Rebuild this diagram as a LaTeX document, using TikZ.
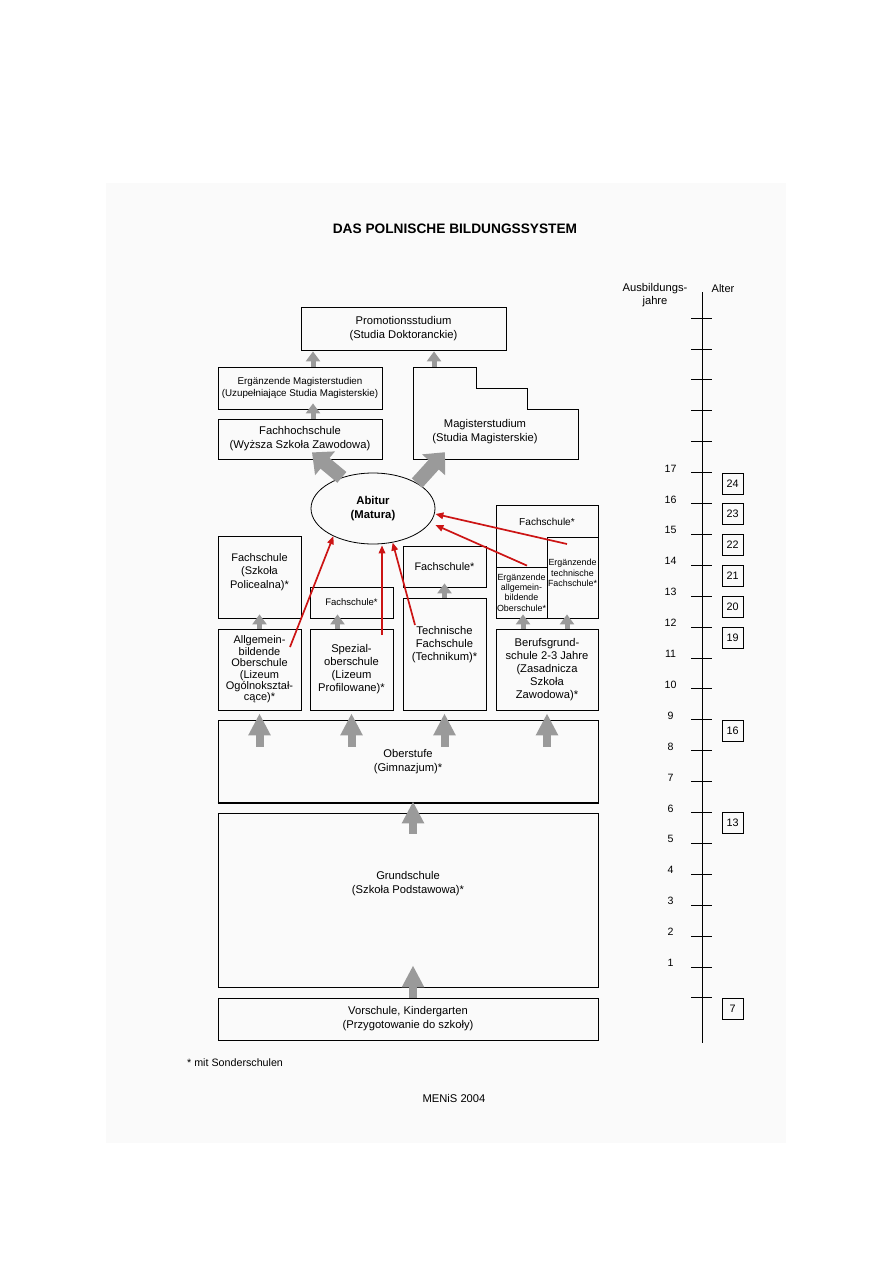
\documentclass[tikz,border=0pt]{standalone}
\usepackage{fontspec}
\setmainfont{Liberation Sans}
\usetikzlibrary{arrows.meta,calc,shapes.geometric}
\definecolor{arrgray}{HTML}{9A9A9A}
\definecolor{redline}{HTML}{CC1414}
\definecolor{pagebg}{HTML}{FAFAFA}
\newcommand\fsz[2]{\fontsize{#1}{#2}\selectfont}
\begin{document}
\begin{tikzpicture}[x=1pt, y=-1pt,
  bx/.style={draw, line width=0.8pt, inner sep=0pt, align=center, font=\fsz{11.2}{14}},
  lbl/.style={inner sep=0pt, align=center, font=\fsz{11.2}{14}},
  up/.style={draw=arrgray, line width=5pt, -{Triangle[width=14pt,length=10pt]}},
  upbig/.style={draw=arrgray, line width=8pt, -{Triangle[width=21pt,length=22pt]}},
  fat/.style={draw=arrgray, line width=14pt, -{Triangle[width=30pt,length=17pt]}},
  toabi/.style={draw=redline, line width=1.7pt, -{Triangle[width=6.5pt,length=8pt]}},
  agebox/.style={draw, line width=0.7pt, minimum size=21pt, inner sep=0pt, anchor=north, font=\fsz{10.8}{12}},
]
\useasboundingbox (0,0) rectangle (893,1263);
\fill[pagebg] (106,183) rectangle (786,1143);
\node[lbl, font=\bfseries\fsz{13.7}{16}] (title) at (455,229) {DAS POLNISCHE BILDUNGSSYSTEM};

\node[bx, minimum width=205pt, minimum height=43pt] (promo) at (403.5,328.5) {Promotionsstudium\\(Studia Doktoranckie)};
\node[bx, minimum width=164pt, minimum height=42pt, font=\fsz{9.8}{12.5}] (ergmag) at (300,388) {Ergänzende Magisterstudien\\(Uzupełniające Studia Magisterskie)};
\node[bx, minimum width=164pt, minimum height=40pt] (fhs) at (300,439) {Fachhochschule\\(Wyższa Szkoła Zawodowa)};
\node[minimum width=165pt, minimum height=92pt, inner sep=0pt] (mag) at (495.5,413) {};
\draw[line width=0.8pt] (413,367) -| (476,388) -| (527,409) -| (578,459) -- (413,459) -- cycle;
\node[lbl] at (485,432) {Magisterstudium\\(Studia Magisterskie)};
\node[ellipse, draw, line width=0.8pt, minimum width=124pt, minimum height=71pt, inner sep=0pt, align=center, font=\bfseries\fsz{11.3}{14}] (abitur) at (373,508.5) {Abitur\\(Matura)};

\node[bx, minimum width=83pt, minimum height=82pt] (fspol) at (259.5,577) {};
\node[lbl, font=\fsz{11}{13.5}] at ([yshift=5pt]fspol.center) {Fachschule\\(Szkoła\\Policealna)*};
\node[bx, minimum width=83pt, minimum height=81pt, font=\fsz{11}{11.4}] (allg) at (259.5,669.5) {Allgemein-\\bildende\\Oberschule\\(Lizeum\\Ogólnokształ-\\cące)*};
\node[bx, minimum width=83pt, minimum height=31pt, font=\fsz{9.5}{12}] (fsspez) at (351.5,602.5) {Fachschule*};
\node[bx, minimum width=83pt, minimum height=81pt, font=\fsz{11.2}{13}] (spez) at (351.5,669.5) {Spezial-\\oberschule\\(Lizeum\\Profilowane)*};
\node[bx, minimum width=83pt, minimum height=41pt, font=\fsz{10.9}{13}] (fstech) at (444.5,566.5) {Fachschule*};
\node[bx, minimum width=83pt, minimum height=112pt] (tech) at (444.5,654) {};
\node[lbl, font=\fsz{11.2}{13}] at ([yshift=9pt]tech.center) {Technische\\Fachschule\\(Technikum)*};
\node[bx, minimum width=102pt, minimum height=113pt] (rcol) at (547,561.5) {};
\node[lbl, font=\fsz{10.1}{12}] at ([yshift=39.5pt]rcol.center) {Fachschule*};
\node[bx, minimum width=51pt, minimum height=51pt, font=\fsz{8.9}{10.3}] (erga) at (521.5,592.5) {Ergänzende\\allgemein-\\bildende\\Oberschule*};
\node[bx, minimum width=51pt, minimum height=81pt] (ergt) at (572.5,577.5) {};
\node[lbl, font=\fsz{8.9}{10.5}] at ([yshift=4.5pt]ergt.center) {Ergänzende\\technische\\Fachschule*};
\node[bx, minimum width=102pt, minimum height=81pt, font=\fsz{11.2}{13}] (beruf) at (547,669.5) {Berufsgrund-\\schule 2-3 Jahre\\(Zasadnicza\\Szkoła\\Zawodowa)*};

\node[bx, minimum width=380pt, minimum height=83pt] (ober) at (408,761.5) {Oberstufe\\(Gimnazjum)*};
\draw[line width=2pt] (ober.south west) -- (ober.south east);
\node[bx, minimum width=380pt, minimum height=174pt] (grund) at (408,900) {};
\node[lbl] at ([yshift=16pt]grund.center) {Grundschule\\(Szkoła Podstawowa)*};
\node[bx, minimum width=380pt, minimum height=42pt] (vor) at (408,1019) {Vorschule, Kindergarten\\(Przygotowanie do szkoły)};

\draw[up] ($(ergmag.north)+(13,0)$) -- ($(promo.south)+(-90.5,1)$);
\draw[up] ($(fhs.north)+(13,0)$) -- ($(ergmag.south)+(13,-6)$);
\draw[up] ($(mag.north)+(-61.5,0)$) -- ($(promo.south)+(30.5,1)$);
\draw[fat] (abitur.135) -- ($(fhs.south)+(12,-7)$);
\draw[fat] (abitur.30) -- ($(mag.south)+(-50.5,-7)$);
\draw[up] (allg.north) -- ($(fspol.south)+(0,-4)$);
\draw[up] ($(spez.north)+(-14,0)$) -- ($(fsspez.south)+(-14,-4)$);
\draw[up] (tech.north) -- ($(fstech.south)+(0,-4)$);
\draw[up] ($(beruf.north)+(-24,0)$) -- ($(erga.south)+(1.5,-4)$);
\draw[up] ($(beruf.north)+(20,0)$) -- ($(ergt.south)+(-5.5,-4)$);
\foreach \n in {allg,spez,tech,beruf}
  \draw[upbig] ($(ober.north -| \n.south)+(0,27)$) -- ($(\n.south)+(0,3)$);
\draw[upbig] ($(grund.north)+(5,21)$) -- ($(ober.south)+(5,-2)$);
\draw[upbig] ($(vor.north)+(5,0)$) -- ($(grund.south)+(5,-22)$);

\draw[toabi] ($(allg.center)+(30.5,-22.5)$) -- (abitur.215);
\draw[toabi] ($(spez.center)+(30.5,-34.5)$) -- ($(abitur.south)+(9,1)$);
\draw[toabi] ($(tech.center)+(-29.5,-29)$) -- (abitur.300);
\draw[toabi] ($(erga.north)+(5.5,-1)$) -- ($(abitur.east)+(0,16.5)$);
\draw[toabi] ($(ergt.center)+(-5.5,-33.5)$) -- ($(abitur.east)+(0,5.5)$);

\node[lbl, font=\fsz{11.2}{13}] (ausb) at (655,295.5) {Ausbildungs-\\jahre};
\node[lbl, font=\fsz{11}{13}] (alter) at (723,289) {Alter};
\draw[line width=0.9pt] (702,292) -- (702,1043);
\foreach \k in {0,...,22}{
  \pgfmathsetmacro\ty{318+30.9*\k}
  \draw[line width=0.8pt] (691,\ty) -- (712,\ty);
}
\foreach \k in {5,...,21}{
  \pgfmathsetmacro\ty{318+30.9*\k-4}
  \pgfmathtruncatemacro\yr{22-\k}
  \node[lbl, font=\fsz{10.6}{12}] at (670.5,\ty) {\yr};
}
\foreach \k in {5,6,7,8,9,10,13,16,22}{
  \pgfmathsetmacro\ty{318+30.9*\k}
  \pgfmathtruncatemacro\age{29-\k}
  \node[agebox] at (732.5,\ty) {\age};
}

\node[lbl, anchor=west, font=\fsz{10.7}{13}] (note) at (187,1063) {* mit Sonderschulen};
\node[lbl] (src) at (454,1098) {MENiS 2004};
\end{tikzpicture}
\end{document}
